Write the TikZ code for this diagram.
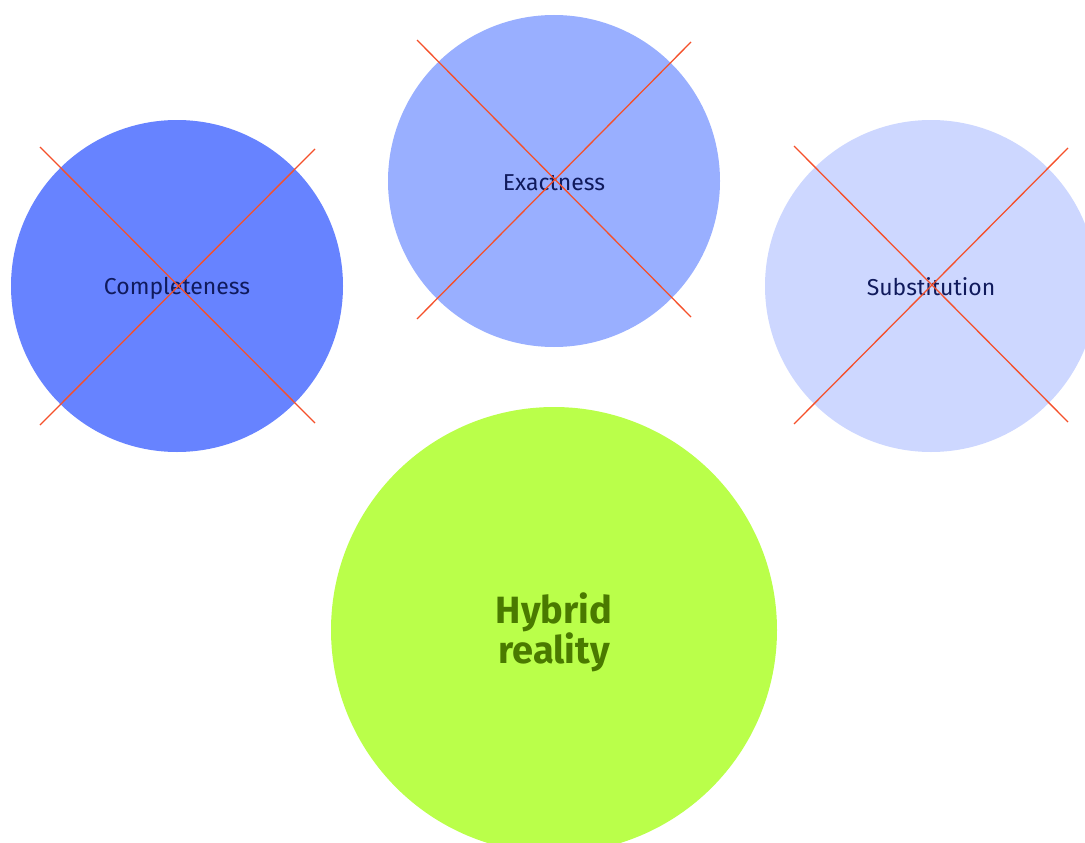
\documentclass[tikz,border=0pt]{standalone}
\usepackage{fontspec}
\setmainfont{Fira Sans}
\definecolor{cA}{HTML}{6783FF}
\definecolor{cB}{HTML}{99AFFF}
\definecolor{cC}{HTML}{CDD7FF}
\definecolor{cH}{HTML}{BAFF4A}
\definecolor{navy}{HTML}{101A5C}
\definecolor{dgreen}{HTML}{4A7A00}
\definecolor{xred}{HTML}{F5502A}
\tikzset{
  bub/.style={circle, inner sep=0pt, minimum size=332pt, fill=#1},
  lbl/.style={text=navy, font=\fontsize{23}{27}\selectfont},
  xline/.style={draw=xred, line width=1.3pt}
}
\begin{document}
\begin{tikzpicture}[x=1pt,y=-1pt]
\useasboundingbox (0,0) rectangle (1085,843);
\begin{scope}
\clip (0,0) rectangle (1085,843);
\node[bub=cA] (comp) at (177,286) {};
\node[bub=cB] (exac) at (554,181) {};
\node[bub=cC] (subs) at (931,286) {};
\node[circle, inner sep=0pt, minimum size=446pt, fill=cH] (hyb) at (554,630) {};
\end{scope}
\node[lbl] (tcomp) at ([yshift=-2pt]comp.center) {Completeness};
\node[lbl] (texac) at ([yshift=-2pt]exac.center) {Exactness};
\node[lbl] (tsubs) at ([yshift=-1pt]subs.center) {Substitution};
\node[text=dgreen, align=center, font=\bfseries\fontsize{38}{39}\selectfont] (thyb)
  at ([yshift=-2pt]hyb.center) {Hybrid\\reality};
\coordinate (c1a) at (40,147); \coordinate (c1b) at (315,423);
\coordinate (c1c) at (40,425); \coordinate (c1d) at (315,149);
\coordinate (e1a) at (417,40); \coordinate (e1b) at (691,317);
\coordinate (e1c) at (417,319); \coordinate (e1d) at (691,42);
\coordinate (s1a) at (794,146); \coordinate (s1b) at (1068,422);
\coordinate (s1c) at (794,424); \coordinate (s1d) at (1068,148);
\draw[xline] (c1a) -- (c1b); \draw[xline] (c1c) -- (c1d);
\draw[xline] (e1a) -- (e1b); \draw[xline] (e1c) -- (e1d);
\draw[xline] (s1a) -- (s1b); \draw[xline] (s1c) -- (s1d);
\end{tikzpicture}
\end{document}
